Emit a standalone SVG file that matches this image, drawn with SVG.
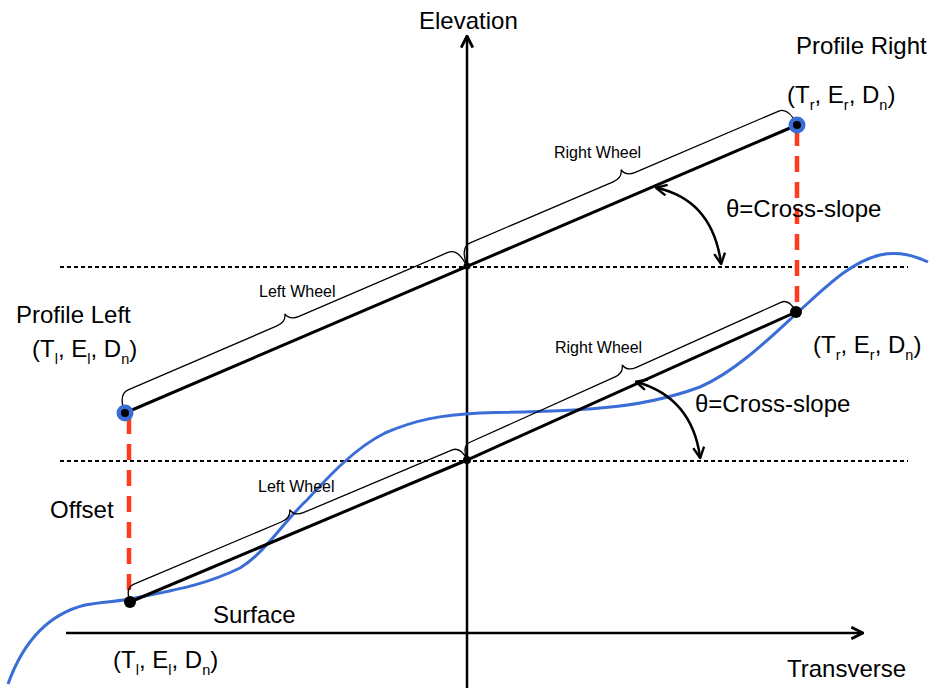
<svg xmlns="http://www.w3.org/2000/svg" width="935" height="688" viewBox="0 0 935 688">
<defs>
<style>
text{font-family:"Liberation Sans",Arial,sans-serif;fill:#000;}
.big{font-size:24px;}
.sm{font-size:16px;}
.sub{font-size:14.5px;}
.axis{stroke:#000;stroke-width:2.5;fill:none;}
.dot{stroke:#000;stroke-width:2;stroke-dasharray:4 3;fill:none;}
.seg{stroke:#000;stroke-width:3;fill:none;stroke-linecap:round;}
.brace{stroke:#000;stroke-width:1.3;fill:none;}
.red{stroke:#ff3b1c;stroke-width:4.5;stroke-dasharray:16 10;fill:none;}
.surf{stroke:#3a6dd6;stroke-width:3;fill:none;}
.arc{stroke:#000;stroke-width:2.5;fill:none;}
</style>
<marker id="ah" viewBox="0 0 12 12" refX="11" refY="6" markerWidth="14" markerHeight="14" markerUnits="userSpaceOnUse" orient="auto-start-reverse">
<path d="M1,1 L11,6 L1,11" fill="none" stroke="#000" stroke-width="2.4"/>
</marker>
<marker id="ah2" viewBox="0 0 12 12" refX="10" refY="6" markerWidth="13" markerHeight="13" markerUnits="userSpaceOnUse" orient="auto-start-reverse">
<path d="M1,1 L11,6 L1,11" fill="none" stroke="#000" stroke-width="2.2"/>
</marker>
</defs>

<g id="axes">
<line class="axis" x1="467" y1="688" x2="467" y2="36" marker-end="url(#ah)"/>
<line class="axis" x1="66" y1="633" x2="863" y2="633" marker-end="url(#ah)"/>
<text class="big" x="419" y="29">Elevation</text>
<text class="big" x="787" y="677">Transverse</text>
</g>

<g id="reference-lines">
<line class="dot" x1="60" y1="267" x2="908" y2="267"/>
<line class="dot" x1="60" y1="461" x2="908" y2="461"/>
</g>

<g id="surface">
<path class="surf" d="M8,684 C22,645 45,615 85,605 C105,601 120,602 140,597 C175,590 205,585 240,568 C265,553 285,520 307,500 C330,475 355,448 385,433 C415,420 440,415 480,413 C530,412 570,411 600,408 C640,405 670,398 700,387 C735,372 770,338 797,313 C825,288 850,262 880,255 C900,251 915,256 928,262"/>
<text class="big" x="213" y="623">Surface</text>
</g>

<g id="connectors">
<line class="seg" x1="125" y1="413" x2="797" y2="125"/>
<polyline class="seg" points="130,602 467,460 796,312"/>
<line class="red" x1="129" y1="418" x2="129" y2="598"/>
<line class="red" x1="797" y1="130" x2="797" y2="308"/>
<path class="arc" d="M657,188 Q712,200 721,263" marker-start="url(#ah2)" marker-end="url(#ah2)"/>
<path class="arc" d="M637,382 Q692,398 700,457" marker-start="url(#ah2)" marker-end="url(#ah2)"/>
</g>

<g id="brace-upper-left">
<path class="brace" transform="translate(125,413) rotate(-23.26)" d="M0,0 Q1,-20 12,-20 L174,-20 Q184,-20 186,-28 Q188,-20 198,-20 L360,-20 Q371,-20 372,0"/>
<text class="sm" x="259" y="297">Left Wheel</text>
</g>
<g id="brace-upper-right">
<path class="brace" transform="translate(467,266) rotate(-23.13)" d="M0,0 Q1,-20 12,-20 L167.5,-20 Q177.5,-20 179.5,-28 Q181.5,-20 191.5,-20 L347,-20 Q358,-20 359,0"/>
<text class="sm" x="554" y="158">Right Wheel</text>
</g>
<g id="brace-lower-left">
<path class="brace" transform="translate(130,602) rotate(-22.85)" d="M0,0 Q1,-15 10,-15 L171,-15 Q181,-15 183,-23 Q185,-15 195,-15 L356,-15 Q365,-15 366,0"/>
<text class="sm" x="258" y="492">Left Wheel</text>
</g>
<g id="brace-lower-right">
<path class="brace" transform="translate(467,460) rotate(-24.22)" d="M0,0 Q1,-15 10,-15 L168.5,-15 Q178.5,-15 180.5,-23 Q182.5,-15 192.5,-15 L351,-15 Q360,-15 361,0"/>
<text class="sm" x="555" y="353">Right Wheel</text>
</g>

<g id="profile-left">
<circle cx="125" cy="413" r="8.5" fill="#3a6dd6"/>
<circle cx="125" cy="413" r="4" fill="#000"/>
<text class="big" x="16" y="323">Profile Left</text>
<text class="big" x="32" y="357">(T<tspan class="sub" dy="7">l</tspan><tspan dy="-7">, E</tspan><tspan class="sub" dy="7">l</tspan><tspan dy="-7">, D</tspan><tspan class="sub" dy="7">n</tspan><tspan dy="-7">)</tspan></text>
</g>

<g id="profile-right">
<circle cx="797" cy="125" r="8.5" fill="#3a6dd6"/>
<circle cx="797" cy="125" r="4" fill="#000"/>
<text class="big" x="796" y="54">Profile Right</text>
<text class="big" x="787" y="103">(T<tspan class="sub" dy="7">r</tspan><tspan dy="-7">, E</tspan><tspan class="sub" dy="7">r</tspan><tspan dy="-7">, D</tspan><tspan class="sub" dy="7">n</tspan><tspan dy="-7">)</tspan></text>
</g>

<g id="center-upper">
<circle cx="467" cy="266" r="3.5" fill="#000"/>
</g>
<g id="center-lower">
<circle cx="467" cy="460" r="4" fill="#000"/>
</g>

<g id="surface-left">
<circle cx="130" cy="602" r="6" fill="#000"/>
<text class="big" x="50" y="518">Offset</text>
<text class="big" x="113" y="668">(T<tspan class="sub" dy="7">l</tspan><tspan dy="-7">, E</tspan><tspan class="sub" dy="7">l</tspan><tspan dy="-7">, D</tspan><tspan class="sub" dy="7">n</tspan><tspan dy="-7">)</tspan></text>
</g>

<g id="surface-right">
<circle cx="796" cy="312" r="6" fill="#000"/>
<text class="big" x="813" y="353">(T<tspan class="sub" dy="7">r</tspan><tspan dy="-7">, E</tspan><tspan class="sub" dy="7">r</tspan><tspan dy="-7">, D</tspan><tspan class="sub" dy="7">n</tspan><tspan dy="-7">)</tspan></text>
</g>

<g id="angle-labels">
<text class="big" x="726" y="217">θ=Cross-slope</text>
<text class="big" x="695" y="412">θ=Cross-slope</text>
</g>
</svg>
